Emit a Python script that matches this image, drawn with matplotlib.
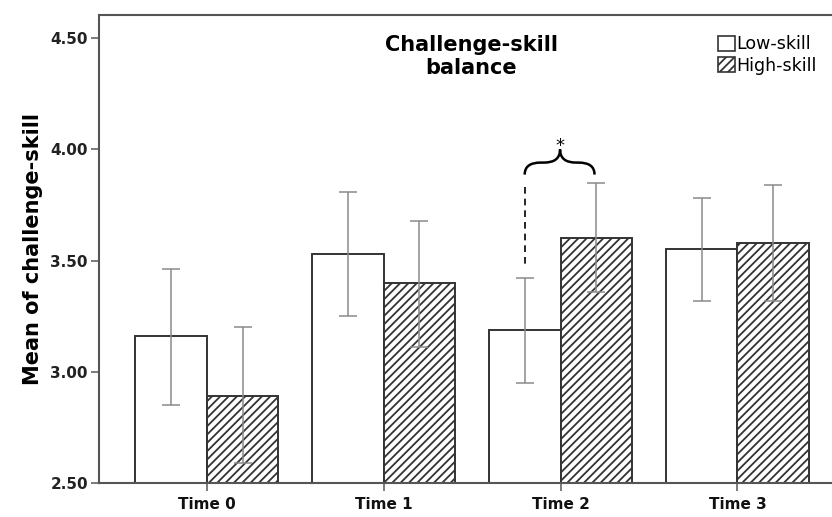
import numpy as np
import matplotlib.pyplot as plt
from matplotlib.patches import Patch, PathPatch
from matplotlib.path import Path

plt.rcParams['font.family'] = ['DejaVu Sans']
plt.rcParams['hatch.color'] = '#3a3a3a'
plt.rcParams['hatch.linewidth'] = 1.3

times = ['Time 0', 'Time 1', 'Time 2', 'Time 3']
low_mean = [3.16, 3.53, 3.19, 3.55]
low_upper = [3.46, 3.81, 3.42, 3.78]
low_lower = [2.85, 3.25, 2.95, 3.32]
high_mean = [2.89, 3.40, 3.60, 3.58]
high_upper = [3.20, 3.68, 3.85, 3.84]
high_lower = [2.59, 3.11, 3.36, 3.32]
y_ticks = [2.5, 3.0, 3.5, 4.0, 4.5]


def _err(mean, lower, upper):
    mean = np.array(mean)
    return [mean - np.array(lower), np.array(upper) - mean]


fig = plt.figure(figsize=(8.32, 5.17), dpi=100)
ax = fig.add_axes([0.119, 0.066, 0.897, 0.905])

x = np.arange(len(times))
w = 0.404
edge = '#333333'
ax.bar(x - w / 2, low_mean, w, color='white', edgecolor=edge, linewidth=1.4, zorder=2)
ax.bar(x + w / 2, high_mean, w, color='white', edgecolor=edge, linewidth=1.4, hatch='////', zorder=2)

ebkw = dict(fmt='none', ecolor='#8a8a8a', elinewidth=1.1, capsize=6.5, capthick=1.1, zorder=3)
ax.errorbar(x - w / 2, low_mean, yerr=_err(low_mean, low_lower, low_upper), **ebkw)
ax.errorbar(x + w / 2, high_mean, yerr=_err(high_mean, high_lower, high_upper), **ebkw)

ax.set_xlim(-0.61, 3.61)
ax.set_ylim(2.5, 4.605)
ax.set_xticks(x)
ax.set_xticklabels(times, fontsize=11, fontweight='bold', color='#111111')
ax.set_yticks(y_ticks)
ax.set_yticklabels([f'{v:.2f}' for v in y_ticks], fontsize=11, fontweight='bold', color='#222222')
ax.tick_params(axis='both', direction='out', length=6, width=1.2, color='#666666', pad=2)
ax.tick_params(axis='x', pad=4)
for s in ax.spines.values():
    s.set_color('#555555')
    s.set_linewidth(1.5)
ax.set_ylabel('Mean of challenge-skill', fontsize=15, fontweight='bold', labelpad=5)

ax.text(0.499, 0.957, 'Challenge-skill\nbalance', transform=ax.transAxes, ha='center', va='top',
        fontsize=15, fontweight='bold', linespacing=1.2)

# significance brace above Time 2
x0, xm, x1 = 1.797, 1.997, 2.192
q = 0.09
y_end, y_mid, y_tip = 3.887, 3.941, 4.0
verts = [(x0, y_end), (x0, y_mid), (x0 + q, y_mid),
         (xm - q, y_mid), (xm, y_mid), (xm, y_tip),
         (xm, y_mid), (xm + q, y_mid),
         (x1 - q, y_mid), (x1, y_mid), (x1, y_end)]
codes = [Path.MOVETO, Path.CURVE3, Path.CURVE3,
         Path.LINETO, Path.CURVE3, Path.CURVE3,
         Path.CURVE3, Path.CURVE3,
         Path.LINETO, Path.CURVE3, Path.CURVE3]
ax.add_patch(PathPatch(Path(verts, codes), fill=False, lw=1.8, color='black', zorder=4))
ax.text(xm, 3.975, '*', ha='center', va='bottom', fontsize=13)
ax.plot([x0, x0], [3.83, 3.48], color='black', lw=1.2, linestyle=(0, (4, 3)), zorder=4)

handles = [Patch(facecolor='white', edgecolor=edge, linewidth=1.2, label='Low-skill'),
           Patch(facecolor='white', edgecolor=edge, linewidth=1.2, hatch='////', label='High-skill')]
ax.legend(handles=handles, loc='upper left', bbox_to_anchor=(0.830, 0.957), frameon=False,
          fontsize=12.5, handlelength=0.95, handleheight=0.95, handletextpad=0.1, labelspacing=0.2,
          borderaxespad=0, borderpad=0)

fig.savefig('out.png', dpi=100)
